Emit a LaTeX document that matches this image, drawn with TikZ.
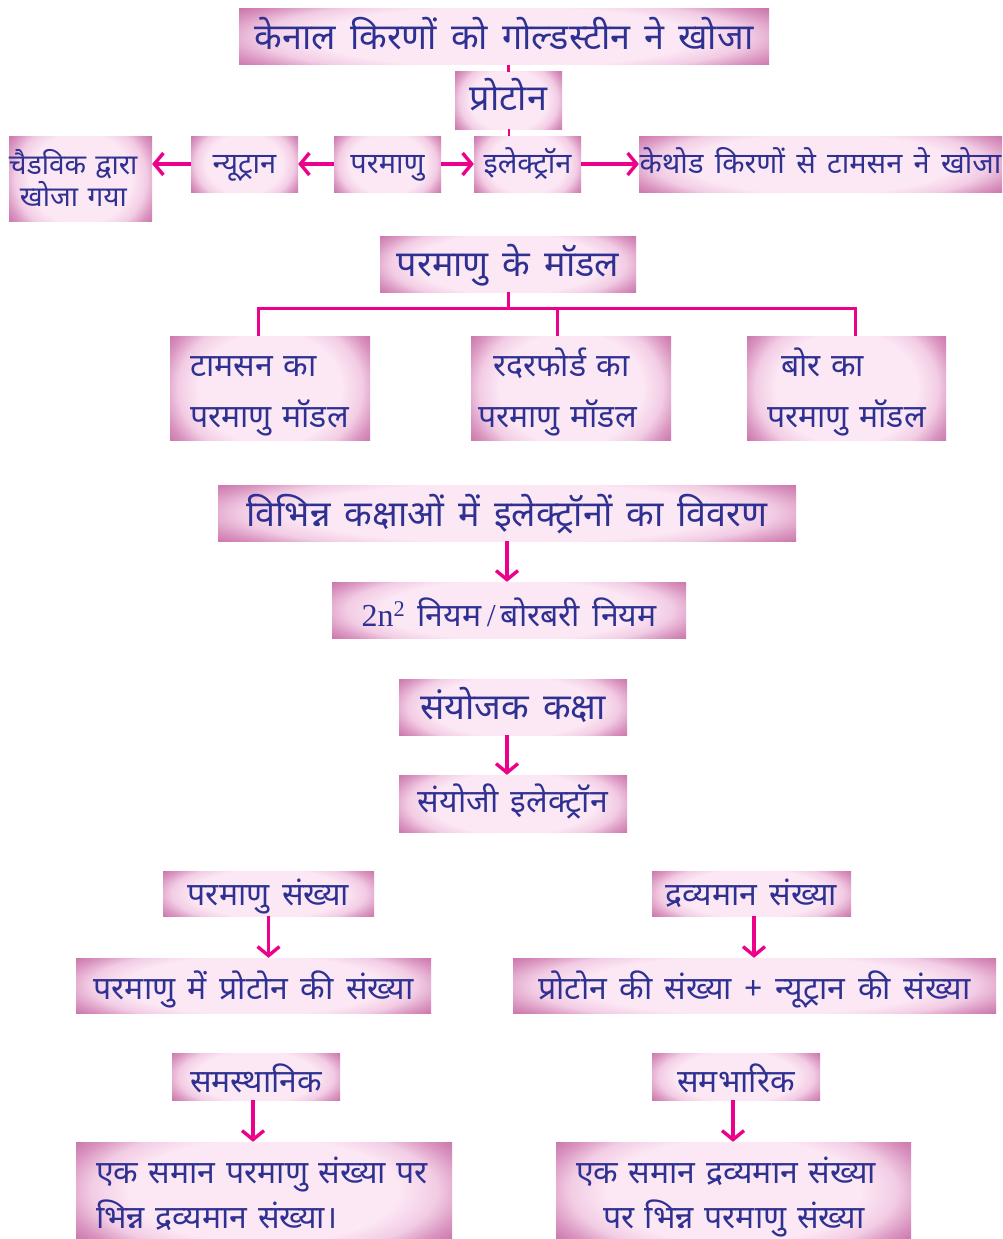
\documentclass[tikz,border=0pt]{standalone}
\usepackage{fontspec}
\setmainfont{Noto Sans}
\newfontfamily\hindi[Script=Devanagari,WordSpace=1.5]{Noto Sans}
\newfontfamily\serifnum{Liberation Serif}
\usetikzlibrary{arrows.meta,calc}

\definecolor{ink}{RGB}{46,49,146}
\definecolor{magline}{RGB}{236,0,140}
\definecolor{pinkA}{RGB}{252,231,244}
\definecolor{pinkB}{RGB}{242,204,228}
\definecolor{pinkC}{RGB}{218,150,193}
\definecolor{pinkD}{RGB}{194,100,158}

% soft pink vignette used inside every box
\pgfdeclareradialshading{vignette}{\pgfpoint{0bp}{0bp}}{%
  color(0bp)=(pinkA); color(18bp)=(pinkA); color(23bp)=(pinkB);
  color(27bp)=(pinkC); color(32bp)=(pinkD); color(50bp)=(pinkD)}

% invisible struts that fix the top of the first line and the bottom of the last
\newcommand{\lineTop}[1]{\rule{0pt}{#1}}
\newcommand{\lineBot}[1]{\rule[-#1]{0pt}{#1}}

\tikzset{
  box/.style={rectangle, inner sep=0pt, text=ink, text depth=8pt,
    font=\hindi\fontsize{32}{36}\selectfont,
    path picture={\shade[shading=vignette]
      ($(path picture bounding box.south west)!-0.25!(path picture bounding box.north west)$)
      rectangle
      ($(path picture bounding box.north east)!-0.25!(path picture bounding box.south east)$);}},
  title/.style={font=\hindi\bfseries\fontsize{36}{40}\selectfont},
  small/.style={font=\hindi\fontsize{29}{32}\selectfont},
  twoline/.style={align=left, inner xsep=0pt, text depth=, font=\hindi\fontsize#1\selectfont},
  arr/.style={draw=magline, line width=3.4pt, -{Straight Barb[length=9pt,width=22pt]}},
  link/.style={draw=magline, line width=3pt},
}

\begin{document}
\begin{tikzpicture}[x=1pt,y=-1pt]
\fill[white] (0,0) rectangle (1002,1239);
\useasboundingbox (0,0) rectangle (1002,1239);

% discovery of the particles
\node[box,title,text height=33pt,minimum width=530,minimum height=56] (t1) at (504,37) {केनाल किरणों को गोल्डस्टीन ने खोजा};
\node[box,title,text height=27pt,minimum width=107,minimum height=57] (pro) at (508.5,100.5) {प्रोटोन};
\node[box,twoline={{28}{32}},text width=143,minimum height=85] (chad) at (80.5,178.5) {\lineTop{32pt}चैडविक द्वारा\\\hspace*{11pt}खोजा गया\lineBot{9pt}};
\node[box,small,text height=26pt,minimum width=107,minimum height=56] (neu) at (244.5,164) {न्यूट्रान};
\node[box,small,text height=26pt,minimum width=107,minimum height=56] (atom) at (387.5,164) {परमाणु};
\node[box,small,text height=26pt,minimum width=107,minimum height=56] (ele) at (527.5,164) {इलेक्ट्रॉन};
\node[box,small,text height=26pt,minimum width=363,minimum height=56] (cath) at (820.5,164) {केथोड किरणों से टामसन ने खोजा};

\draw[link] (pro.north |- t1.south) -- (pro.north);
\draw[link,line width=2pt] (pro.south) -- (pro.south |- ele.north);
\draw[arr] (atom.west) -- (neu.east);
\draw[arr] (neu.west) -- (neu.west -| chad.east);
\draw[arr] (atom.east) -- (ele.west);
\draw[arr] (ele.east) -- (cath.west);

% atomic models
\node[box,title,text height=32pt,minimum width=256,minimum height=56] (models) at (508,264) {परमाणु के मॉडल};
\node[box,twoline={{32}{51}},text width=200,minimum height=104] (thom) at (270,388) {\lineTop{37pt}\hspace*{20pt}टामसन का\\\hspace*{20pt}परमाणु मॉडल\lineBot{10pt}};
\node[box,twoline={{32}{51}},text width=200,minimum height=104] (ruth) at (571,388) {\lineTop{37pt}\hspace*{22pt}रदरफोर्ड का\\\hspace*{7pt}परमाणु मॉडल\lineBot{10pt}};
\node[box,twoline={{32}{51}},text width=199,minimum height=104] (bohr) at (846.5,388) {\lineTop{37pt}\hspace*{34pt}बोर का\\\hspace*{20pt}परमाणु मॉडल\lineBot{10pt}};

\draw[link] (models.south) -- ++(0,16) coordinate (bar);
\coordinate (tT) at ([xshift=-12pt]thom.north);
\coordinate (rT) at ([xshift=-14pt]ruth.north);
\coordinate (bT) at ([xshift=8.5pt]bohr.north);
\draw[link] (tT) |- (bar) -| (bT);
\draw[link] (rT) -- (rT |- bar);

% electron distribution
\node[box,title,text height=34pt,minimum width=578,minimum height=56] (desc) at (507,513) {विभिन्न कक्षाओं में इलेक्ट्रॉनों का विवरण};
\node[box,text height=40pt,minimum width=354,minimum height=56] (rule) at (509,610) {{\serifnum 2n\textsuperscript{2}} नियम{\serifnum\,/\,}बोरबरी नियम};
\node[box,title,text height=33pt,minimum width=228,minimum height=56] (val) at (513,707) {संयोजक कक्षा};
\node[box,text height=25pt,minimum width=228,minimum height=57] (vale) at (513,803.5) {संयोजी इलेक्ट्रॉन};

\draw[arr] (desc.south) -- (desc.south |- rule.north);
\coordinate (vS) at ([xshift=-6pt]val.south);
\draw[arr] (vS) -- (vS |- vale.north);

% atomic and mass numbers
\node[box,text height=32pt,minimum width=211,minimum height=45] (anum) at (268.5,893.5) {परमाणु संख्या};
\node[box,text height=35pt,minimum width=355,minimum height=55] (anum2) at (253.5,985.5) {परमाणु में प्रोटोन की संख्या};
\node[box,text height=32pt,minimum width=199,minimum height=45] (mnum) at (751.5,893.5) {द्रव्यमान संख्या};
\node[box,text height=35pt,minimum width=483,minimum height=55] (mnum2) at (754.5,985.5) {प्रोटोन की संख्या + न्यूट्रान की संख्या};

\draw[arr] (anum.south) -- (anum.south |- anum2.north);
\coordinate (mS) at ([xshift=2.5pt]mnum.south);
\draw[arr] (mS) -- (mS |- mnum2.north);

% isotopes and isobars
\node[box,text height=39pt,minimum width=168,minimum height=45] (iso) at (256,1076.5) {समस्थानिक};
\node[box,twoline={{32}{45}},text width=376,minimum height=97] (iso2) at (264,1190.5) {\lineTop{40pt}\hspace*{20pt}एक समान परमाणु संख्या पर\\\hspace*{20pt}भिन्न द्रव्यमान संख्या।\lineBot{10pt}};
\node[box,text height=39pt,minimum width=168,minimum height=45] (isob) at (736,1076.5) {समभारिक};
\node[box,twoline={{32}{45}},text width=355,minimum height=97] (isob2) at (733.5,1190.5) {\lineTop{40pt}\hspace*{20pt}एक समान द्रव्यमान संख्या\\\hspace*{47pt}पर भिन्न परमाणु संख्या\lineBot{10pt}};

\coordinate (iS) at ([xshift=-3pt]iso.south);
\draw[arr] (iS) -- (iS |- iso2.north);
\coordinate (ibS) at ([xshift=-3pt]isob.south);
\draw[arr] (ibS) -- (ibS |- isob2.north);
\end{tikzpicture}
\end{document}
